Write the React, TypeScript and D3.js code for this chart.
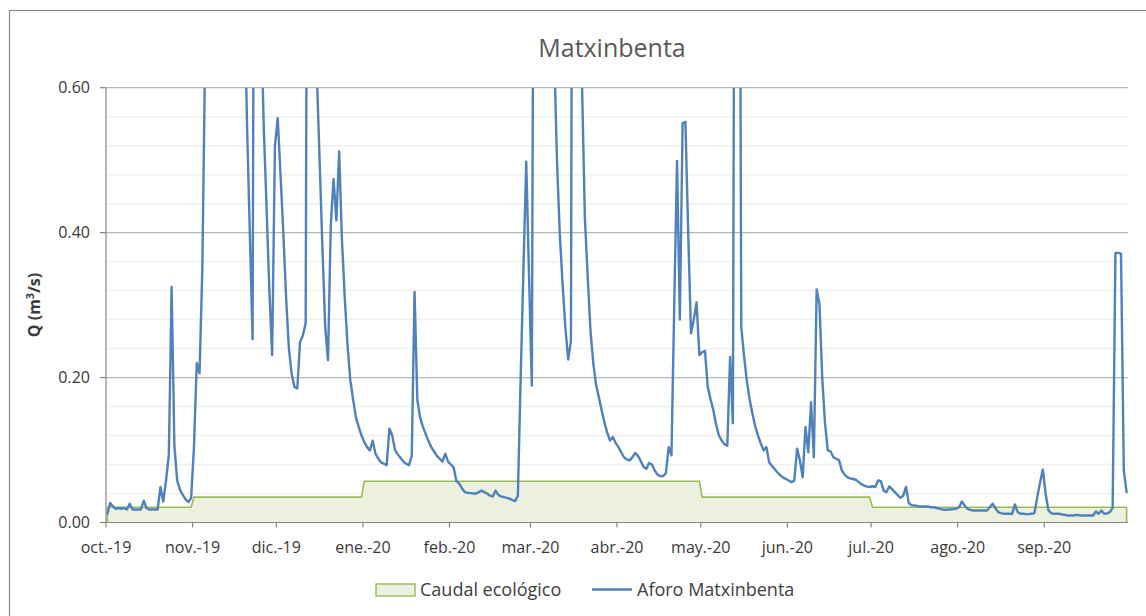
import React from 'react';
import * as d3 from 'd3';

// ---------- DATA ----------
const startDate = new Date(2019, 9, 1);
const endDate = new Date(2020, 9, 1);

const monthLabels = ['oct.-19', 'nov.-19', 'dic.-19', 'ene.-20', 'feb.-20', 'mar.-20', 'abr.-20', 'may.-20', 'jun.-20', 'jul.-20', 'ago.-20', 'sep.-20'];

// Caudal ecológico, one value per month (oct.-19 ... sep.-20)
const caudalEcologicoMensual = [0.021, 0.035, 0.035, 0.057, 0.057, 0.057, 0.057, 0.035, 0.035, 0.021, 0.021, 0.021];

// Aforo Matxinbenta, daily values from 1 oct 2019 to 30 sep 2020 (m3/s)
const aforoMatxinbenta = [
  0.012, 0.027, 0.022, 0.019, 0.020, 0.019, 0.020, 0.018, 0.026, 0.018,
  0.018, 0.018, 0.018, 0.030, 0.020, 0.018, 0.018, 0.018, 0.018, 0.049,
  0.029, 0.058, 0.093, 0.325, 0.105, 0.058, 0.045, 0.038, 0.032, 0.028,
  0.034, 0.104, 0.220, 0.206, 0.350, 0.650, 1.100, 1.300, 1.200, 1.000,
  1.100, 1.400, 1.200, 1.000, 0.950, 1.100, 1.000, 0.900, 0.800, 0.750,
  0.550, 0.400, 0.253, 1.600, 1.000, 0.700, 0.545, 0.435, 0.320, 0.231,
  0.520, 0.558, 0.480, 0.400, 0.310, 0.240, 0.205, 0.187, 0.185, 0.249,
  0.258, 0.275, 1.500, 1.300, 0.900, 0.620, 0.500, 0.380, 0.270, 0.224,
  0.410, 0.474, 0.417, 0.512, 0.390, 0.310, 0.245, 0.196, 0.170, 0.145,
  0.132, 0.120, 0.111, 0.104, 0.0995, 0.113, 0.095, 0.088, 0.083, 0.081,
  0.079, 0.1295, 0.120, 0.100, 0.094, 0.089, 0.084, 0.081, 0.079, 0.092,
  0.318, 0.169, 0.145, 0.132, 0.122, 0.112, 0.104, 0.098, 0.092, 0.088,
  0.084, 0.095, 0.084, 0.080, 0.076, 0.057, 0.0535, 0.047, 0.042, 0.041,
  0.0405, 0.040, 0.040, 0.042, 0.044, 0.042, 0.040, 0.037, 0.036, 0.044,
  0.038, 0.036, 0.035, 0.034, 0.033, 0.031, 0.0295, 0.037, 0.200, 0.350,
  0.498, 0.340, 0.189, 1.300, 1.600, 1.800, 1.500, 1.200, 1.000, 0.800,
  0.650, 0.500, 0.399, 0.330, 0.270, 0.225, 0.250, 1.800, 1.500, 1.000,
  0.600, 0.420, 0.340, 0.265, 0.220, 0.190, 0.173, 0.155, 0.138, 0.124,
  0.113, 0.118, 0.110, 0.104, 0.097, 0.090, 0.087, 0.0857, 0.090, 0.096,
  0.092, 0.085, 0.077, 0.074, 0.082, 0.080, 0.072, 0.066, 0.064, 0.064,
  0.068, 0.104, 0.0926, 0.300, 0.499, 0.280, 0.551, 0.553, 0.400, 0.261,
  0.280, 0.304, 0.231, 0.235, 0.237, 0.187, 0.170, 0.155, 0.135, 0.120,
  0.113, 0.108, 0.106, 0.2285, 0.137, 1.500, 1.500, 0.270, 0.230, 0.195,
  0.170, 0.150, 0.133, 0.120, 0.109, 0.0995, 0.104, 0.083, 0.078, 0.0735,
  0.069, 0.065, 0.062, 0.060, 0.058, 0.0555, 0.058, 0.102, 0.0857, 0.0627,
  0.132, 0.097, 0.166, 0.090, 0.3217, 0.302, 0.200, 0.1364, 0.0995, 0.098,
  0.090, 0.088, 0.086, 0.072, 0.066, 0.0627, 0.061, 0.060, 0.059, 0.056,
  0.053, 0.051, 0.0495, 0.049, 0.050, 0.049, 0.058, 0.057, 0.044, 0.042,
  0.0498, 0.046, 0.042, 0.038, 0.034, 0.037, 0.049, 0.0267, 0.024, 0.0235,
  0.023, 0.022, 0.022, 0.022, 0.022, 0.021, 0.021, 0.020, 0.019, 0.018,
  0.0175, 0.018, 0.018, 0.0185, 0.019, 0.021, 0.029, 0.0235, 0.019, 0.0175,
  0.0166, 0.0166, 0.0166, 0.0166, 0.0166, 0.0166, 0.021, 0.026, 0.020, 0.0143,
  0.013, 0.012, 0.012, 0.012, 0.012, 0.0249, 0.0143, 0.012, 0.012, 0.0115,
  0.0115, 0.012, 0.013, 0.035, 0.055, 0.073, 0.040, 0.0166, 0.013, 0.012,
  0.012, 0.012, 0.011, 0.0105, 0.0097, 0.0097, 0.0097, 0.0105, 0.010, 0.0097,
  0.0097, 0.0097, 0.0097, 0.0097, 0.0152, 0.012, 0.0166, 0.012, 0.0125, 0.0143,
  0.020, 0.372, 0.372, 0.371, 0.072, 0.042,
];

const yMajorTicks = [0, 0.2, 0.4, 0.6];
const yMinorStep = 0.04;

const title = 'Matxinbenta';
const seriesNames = ['Caudal ecológico', 'Aforo Matxinbenta'];

// ---------- STYLE ----------
const FONT = '"Open Sans", "Noto Sans", sans-serif';
const BLUE = '#4F81BD';
const GREEN = '#9BBB59';
const GREEN_FILL = '#EBF1DE';
const AXIS = '#868686';
const TXT = '#3a3a3a';

export default function App() {
  const W = 1146;
  const H = 616;
  const left = 106, right = 1128, top = 87.7, bottom = 522.5;

  const x = d3.scaleTime().domain([startDate, endDate]).range([left, right]);
  const y = d3.scaleLinear().domain([0, 0.6]).range([bottom, top]);

  const days = d3.timeDay.range(startDate, endDate);
  const months = d3.timeMonth.range(startDate, endDate);
  const mid = (d: Date) => x(d3.timeHour.offset(d, 12));

  const flow = days.map((d, i) => ({ d, v: aforoMatxinbenta[i] }));
  const eco = days.map((d) => {
    const mi = d3.timeMonth.count(startDate, d3.timeMonth.floor(d));
    return { d, v: caudalEcologicoMensual[mi] };
  });

  const line = d3.line<{ d: Date; v: number }>().x((p) => mid(p.d)).y((p) => y(p.v));
  const area = d3
    .area<{ d: Date; v: number }>()
    .x((p) => mid(p.d))
    .y0(y(0))
    .y1((p) => y(p.v));

  const minorTicks = d3.range(0, 16).map((i) => i * yMinorStep).filter((v) => Math.abs(v / 0.2 - Math.round(v / 0.2)) > 1e-6);

  return (
    <svg width={W} height={H} style={{ position: 'absolute', left: 0, top: 0, background: '#fff' }} fontFamily={FONT}>
      <defs>
        <clipPath id="plotClip">
          <rect x={left - 2} y={top} width={right - left + 4} height={bottom - top + 2} />
        </clipPath>
      </defs>
      <rect x={0} y={0} width={W} height={H} fill="#fff" />
      {/* chart border */}
      <path d={`M9.5,${H} V10.5 H${W}`} fill="none" stroke="#8a8a8a" strokeWidth={1.2} />

      {/* title */}
      <text x={612} y={57} textAnchor="middle" fontSize={25} fill="#595959">{title}</text>

      {/* minor gridlines */}
      {minorTicks.map((t) => (
        <line key={'mi' + t} x1={left} x2={right} y1={y(t)} y2={y(t)} stroke="#F0F0F0" strokeWidth={1.5} />
      ))}
      {/* major gridlines */}
      {yMajorTicks.map((t) => (
        <line key={'ma' + t} x1={left} x2={right} y1={y(t)} y2={y(t)} stroke="#B9B9B9" strokeWidth={1.2} />
      ))}

      {/* caudal ecologico area */}
      <path d={area(eco) || ''} fill={GREEN_FILL} stroke="none" />
      <path d={line(eco) || ''} fill="none" stroke={GREEN} strokeWidth={1.6} />
      <line x1={mid(days[0])} x2={mid(days[0])} y1={y(0)} y2={y(eco[0].v)} stroke={GREEN} strokeWidth={1.6} />
      <line x1={mid(days[days.length - 1])} x2={mid(days[days.length - 1])} y1={y(0)} y2={y(eco[eco.length - 1].v)} stroke={GREEN} strokeWidth={1.6} />

      {/* aforo line */}
      <g clipPath="url(#plotClip)">
        <path d={line(flow) || ''} fill="none" stroke={BLUE} strokeWidth={2.4} strokeLinejoin="round" strokeLinecap="round" />
      </g>

      {/* y axis */}
      <line x1={left} x2={left} y1={top} y2={bottom} stroke={AXIS} strokeWidth={1.2} />
      {yMajorTicks.map((t) => (
        <g key={'yt' + t}>
          <line x1={left - 6} x2={left} y1={y(t)} y2={y(t)} stroke={AXIS} strokeWidth={1.2} />
          <text x={90} y={y(t)} dy="0.36em" textAnchor="end" fontSize={16} fill={TXT}>{d3.format('.2f')(t)}</text>
        </g>
      ))}

      {/* x axis */}
      <line x1={left} x2={right} y1={bottom} y2={bottom} stroke={AXIS} strokeWidth={1.2} />
      {months.map((m, i) => (
        <g key={'xt' + i}>
          <line x1={x(m)} x2={x(m)} y1={bottom} y2={bottom + 5} stroke={AXIS} strokeWidth={1.2} />
          <text x={x(m)} y={552.5} textAnchor="middle" fontSize={16} fill={TXT}>{monthLabels[i]}</text>
        </g>
      ))}

      {/* y axis title */}
      <text transform="translate(39.5,305) rotate(-90)" textAnchor="middle" fontSize={16} fontWeight="bold" fill={TXT}>
        Q (m<tspan dy="-5.5" fontSize={11}>3</tspan><tspan dy="5.5">/s)</tspan>
      </text>

      {/* legend */}
      <rect x={376} y={584} width={39} height={12} fill={GREEN_FILL} stroke={GREEN} strokeWidth={1.4} />
      <text x={420} y={596} fontSize={18} fill="#404040">{seriesNames[0]}</text>
      <line x1={592} x2={632} y1={589.5} y2={589.5} stroke={BLUE} strokeWidth={2.6} />
      <text x={637} y={596} fontSize={18} fill="#404040">{seriesNames[1]}</text>
    </svg>
  );
}
